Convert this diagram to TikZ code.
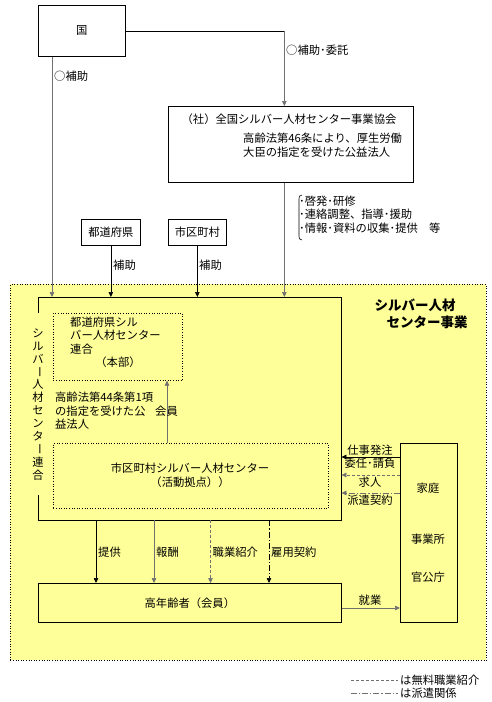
\documentclass[tikz,border=0pt]{standalone}
\usepackage{fontspec}
\setmainfont{Noto Sans CJK JP}
\usetikzlibrary{arrows.meta,calc}
\definecolor{bg}{HTML}{FFFF99}
\definecolor{ln}{HTML}{707070}
\begin{document}
\begin{tikzpicture}[x=1pt,y=-1pt,
  font=\fontsize{11.3}{13.6}\selectfont,
  box/.style={draw, line width=0.7pt, inner sep=0, anchor=north west},
  dbox/.style={draw, dotted, line width=0.6pt, inner sep=0, anchor=north west},
  tip/.style={line width=0.7pt, -{Triangle[length=5pt,width=4.5pt]}},
  lbl/.style={inner sep=0, anchor=west},
  clbl/.style={inner sep=0},
  dsh/.style={dash pattern=on 3pt off 2pt},
  dshdot/.style={dash pattern=on 6pt off 2pt on 1.2pt off 2pt},
]
\useasboundingbox (0,0) rectangle (492,702);
\fill[white] (0,0) rectangle (492,702);

% yellow area
\node[dbox, fill=bg, minimum width=476, minimum height=376] (area) at (10,284) {};

% top boxes
\node[box, minimum width=87, minimum height=51] (kuni) at (38,5) {国};
\node[box, minimum width=245, minimum height=76] (kyokai) at (168,106) {};
\node[clbl] (kyt1) at (289,119) {（社）全国シルバー人材センター事業協会};
\node[lbl, align=left] (kyt2) at (243,145) {高齢法第46条により、厚生労働\\大臣の指定を受けた公益法人};
\node[box, minimum width=59, minimum height=26] (todo) at (81,219) {都道府県};
\node[box, minimum width=58, minimum height=26] (shiku) at (168,219) {市区町村};

% federation frame (invisible node, drawn border)
\node[inner sep=0, anchor=north west, minimum width=303, minimum height=223] (rengo) at (38,297) {};
\draw[line width=0.7pt] ($(rengo.north west)+(0,16)$) -- (rengo.north west) -- (rengo.north east)
  -- (rengo.south east) -- (rengo.south west) -- ($(rengo.south west)+(0,-25)$);
\foreach \c [count=\i from 0] in {シ,ル,バ,ー,人,材,セ,ン,タ,ー,連,合}{
  \ifnum\i=3 \node[clbl, rotate=-90] (v\i) at (38,{333+\i*12.9}) {\c};
  \else\ifnum\i=9 \node[clbl, rotate=-90] (v\i) at (38,{333+\i*12.9}) {\c};
  \else \node[clbl] (v\i) at (38,{333+\i*12.9}) {\c};\fi\fi
}

% title
\node[clbl, font=\fontsize{13.5}{15}\selectfont\bfseries] (tt1) at (415,305) {シルバー人材};
\node[clbl, font=\fontsize{13.5}{15}\selectfont\bfseries] (tt2) at (427,322) {センター事業};

% inner boxes
\node[dbox, minimum width=129, minimum height=67] (honbu) at (53,313) {};
\node[lbl, align=left] (hb1) at (70,335.5) {都道府県シル\\バー人材センター\\連合};
\node[clbl] (hb2) at (118,362) {（本部）};
\node[lbl, align=left] (hou) at (55,411) {高齢法第44条第1項\\の指定を受けた公\\益法人};
\node[dbox, minimum width=275, minimum height=65] (center) at (53,443) {};
\node[clbl, align=center] (cnt) at (190,475) {市区町村シルバー人材センター\\（活動拠点））};

\node[box, minimum width=57, minimum height=179] (katei) at (400,443) {};
\node[clbl] (k1) at (428,488) {家庭};
\node[clbl] (k2) at (428,539) {事業所};
\node[clbl] (k3) at (428,577) {官公庁};

\node[box, minimum width=303, minimum height=39] (koreisha) at (38,583) {高年齢者（会員）};

% connectors from top
\coordinate (c1) at ([xshift=-6.5]kyokai.north |- kuni.east);
\draw[line width=0.7pt] (kuni.east) -- (c1);
\draw[tip, ln] (c1) -- (c1 |- kyokai.north);
\node[lbl] (l1) at (286,50) {○補助･委託};
\coordinate (c2) at ($(kuni.south west)+(14,0)$);
\draw[tip, ln] (c2) -- (c2 |- rengo.north);
\node[lbl] (l2) at (54,76) {○補助};
\draw[tip, ln] (kyokai.south -| c1) -- (c1 |- rengo.north);
\draw[line width=0.6pt] (302,195) .. controls (299,195) and (299,197) .. (299,199) -- (299,236) .. controls (299,238) and (299,240) .. (302,240);
\node[anchor=north west, inner sep=0, align=left] (br) at (299,195.5) {･啓発･研修\\･連絡調整、指導･援助\\･情報･資料の収集･提供　等};
\draw[tip] (todo.south) -- (todo.south |- rengo.north);
\node[lbl] (l3) at (113,265) {補助};
\draw[tip] (shiku.south) -- (shiku.south |- rengo.north);
\node[lbl] (l4) at (199,265) {補助};

% member arrow
\coordinate (c3) at ($(center.north west)+(114,0)$);
\draw[tip, ln] (c3) -- (c3 |- honbu.south);
\node[lbl] (l5) at (155,411) {会員};

% from katei
\coordinate (k4) at ($(katei.north west)+(0,14)$);
\coordinate (k5) at ($(katei.north west)+(0,32)$);
\coordinate (k6) at ($(katei.north west)+(0,50)$);
\draw[tip] (k4) -- (k4 -| rengo.east);
\draw[tip, ln, dsh] (k5) -- (k5 -| rengo.east);
\draw[tip, ln, dshdot] (k6) -- (k6 -| rengo.east);
\node[clbl] (l6) at (370,450.5) {仕事発注};
\node[clbl] (l7) at (370,463.5) {委任･請負};
\node[clbl] (l8) at (370,482) {求人};
\node[clbl] (l9) at (370,500.5) {派遣契約};

% bottom arrows
\coordinate (b1) at ($(rengo.south west)+(58,0)$);
\coordinate (b2) at ($(rengo.south west)+(116,0)$);
\coordinate (b3) at ($(rengo.south west)+(172.5,0)$);
\coordinate (b4) at ($(rengo.south west)+(231,0)$);
\draw[tip] (b1) -- (b1 |- koreisha.north);
\draw[tip, ln] (b2) -- (b2 |- koreisha.north);
\draw[tip, ln, dsh] (b3) -- (b3 |- koreisha.north);
\draw[tip, dshdot] (b4) -- (b4 |- koreisha.north);
\node[lbl] (m1) at (98,552) {提供};
\node[lbl] (m2) at (156,552) {報酬};
\node[lbl] (m3) at (212.5,552) {職業紹介};
\node[lbl] (m4) at (271,552) {雇用契約};

% shugyo
\coordinate (s1) at ($(koreisha.north east)+(0,25)$);
\draw[tip, ln] (s1) -- (s1 -| katei.west);
\node[clbl] (l10) at (370,600) {就業};

% legend
\coordinate (g1) at (351,680);
\coordinate (g2) at (398,680);
\coordinate (g3) at (351,693);
\coordinate (g4) at (398,693);
\draw[ln, dsh, line width=0.7pt] (g1) -- (g2);
\draw[ln, dshdot, line width=0.7pt] (g3) -- (g4);
\node[lbl] (lg1) at (400,680) {は無料職業紹介};
\node[lbl] (lg2) at (400,693) {は派遣関係};
\end{tikzpicture}
\end{document}
